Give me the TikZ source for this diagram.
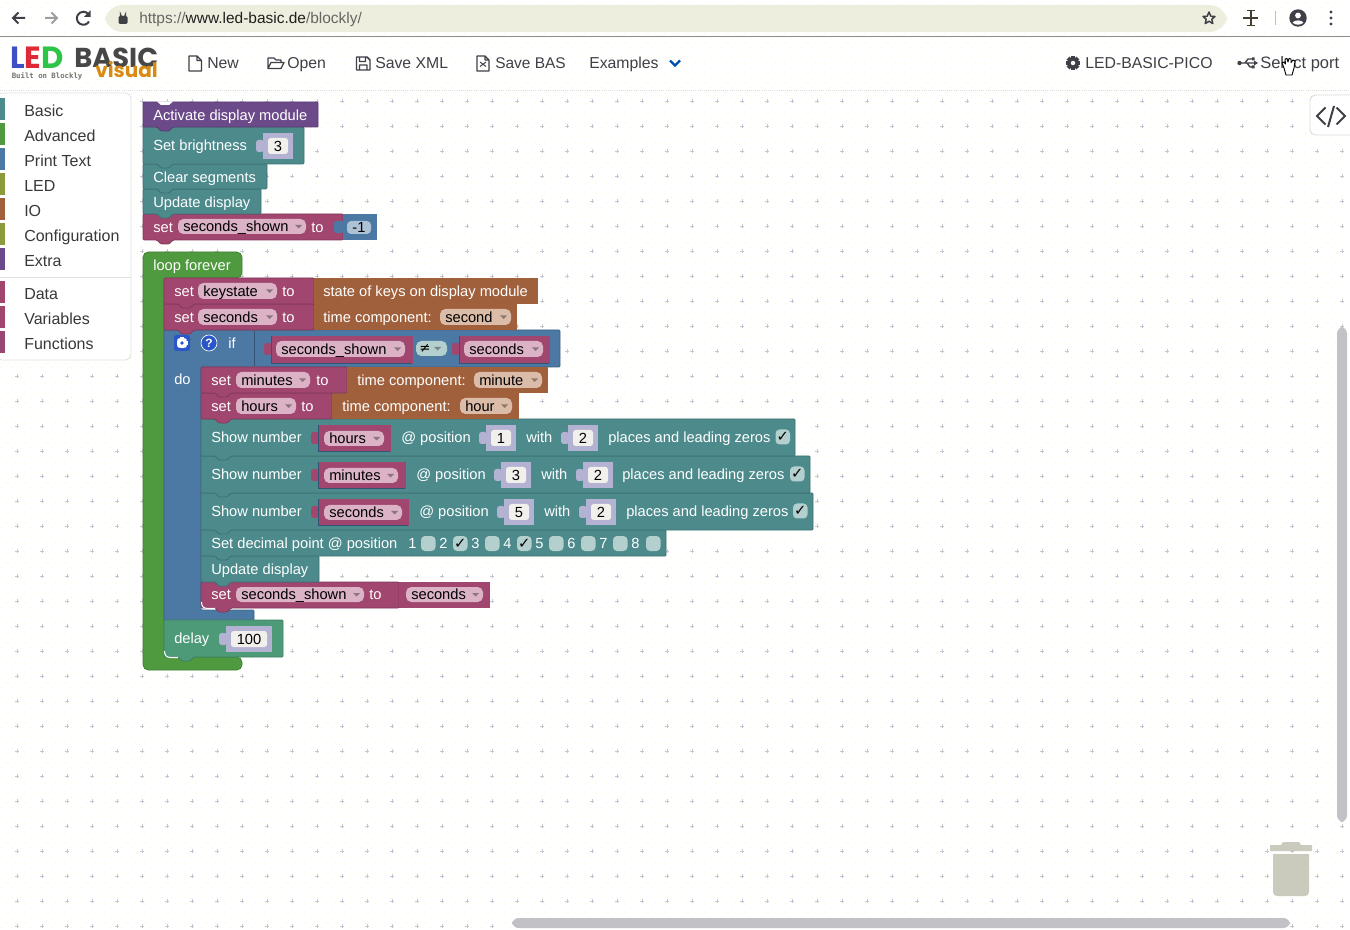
\documentclass[tikz,border=0pt]{standalone}
\usepackage{fontspec}
\usetikzlibrary{patterns}
\setmainfont{Liberation Sans}
\newfontfamily\symfont{DejaVu Sans}
\newfontfamily\logofont{Poppins}
\setmonofont{DejaVu Sans Mono}
\definecolor{barbg}{HTML}{EEEEDF}
\definecolor{navtext}{HTML}{3E4046}
\definecolor{purpleblk}{HTML}{6C4A8A}
\definecolor{tealblk}{HTML}{4C8A8C}
\definecolor{plumblk}{HTML}{A0466F}
\definecolor{brownblk}{HTML}{A0603C}
\definecolor{loopgreen}{HTML}{4F9A3F}
\definecolor{ifblue}{HTML}{4C78A4}
\definecolor{delaygreen}{HTML}{4C9A78}
\definecolor{shadowblk}{HTML}{B4B2D2}
\definecolor{pillpink}{HTML}{DBB2C6}
\definecolor{pillbrown}{HTML}{DBBCA8}
\definecolor{pillwhite}{HTML}{F2F0EC}
\definecolor{checkbg}{HTML}{B4D0CE}
\definecolor{grayblk}{HTML}{C2C2C6}
\definecolor{trashgray}{HTML}{CACBBC}
\definecolor{griddotc}{HTML}{C6C6D0}
\definecolor{helpblue}{HTML}{2A56C8}
\definecolor{ledolive}{HTML}{8C9A3C}
\definecolor{logoblue}{HTML}{4050C4}
\definecolor{logored}{HTML}{E02836}
\definecolor{logogreen}{HTML}{2EC448}
\definecolor{logoorange}{HTML}{D98A12}
\pgfdeclarepatternformonly{ditherdots}{\pgfqpoint{0pt}{0pt}}{\pgfqpoint{7.5pt}{7.5pt}}{\pgfqpoint{7.5pt}{7.5pt}}{
  \pgfpathcircle{\pgfqpoint{1.875pt}{1.875pt}}{.5pt}
  \pgfpathcircle{\pgfqpoint{5.625pt}{5.625pt}}{.5pt}
  \pgfusepath{fill}}
\tikzset{
  lbl/.style={anchor=west,inner sep=0pt,text height=9.5pt,text depth=1.5pt,font=\fontsize{11}{13}\selectfont,text=white},
  darklbl/.style={lbl,text=black},
  navlbl/.style={anchor=west,inner sep=0pt,text height=10.5pt,text depth=1.5pt,font=\fontsize{11.85}{14}\selectfont,text=navtext},
  toollbl/.style={navlbl,font=\fontsize{12}{14}\selectfont,text=black!78},
  blk/.style={line width=.6pt,rounded corners=.8pt},
  griddot/.style={draw=griddotc,line width=.7pt},
  nvicon/.style={draw=navtext,line width=.9pt,fill=none}
}
% block with its tab on the lower edge
\newcommand{\blk}[5]{\draw[blk,draw=#5!82!black,fill=#5] (#1,#2) -- (#3,#2) -- (#3,#4) -- ({#1+30},#4) -- ({#1+26},{#4+4}) -- ({#1+18},{#4+4}) -- ({#1+14},#4) -- (#1,#4) -- cycle;}
% round field with a dropdown arrow
\newcommand{\pill}[7][pillpink]{\fill[#1] (#3,#4) [rounded corners=4pt] rectangle (#5,#6);
  \node[darklbl] (#2) at ({#3+5},{(#4+#6)/2}) {#7};
  \fill[#1!65!black] ({#5-11},{(#4+#6)/2-1.5}) -- ({#5-4},{(#4+#6)/2-1.5}) -- ({#5-7.5},{(#4+#6)/2+2}) -- cycle;}
% number block with its lobe on the left
\newcommand{\numblk}[7][shadowblk]{\fill[#1] ({#3-7},{#4+7}) [rounded corners=2pt] rectangle ({#3+1},{#4+19});
  \fill[#1] (#3,#4) rectangle (#5,#6);
  \fill[pillwhite] ({#3+5},{#4+5}) [rounded corners=2pt] rectangle ({#5-5},{#6-5});
  \node[darklbl,anchor=center] (#2) at ({(#3+#5)/2},{(#4+#6)/2}) {#7};}
% variable block inside a socket
\newcommand{\varblk}[4]{\fill[plumblk] ({#1-7},{#2+7}) [rounded corners=2pt] rectangle ({#1+1},{#2+19});
  \draw[plumblk,fill=plumblk,line width=.6pt] (#1,#2) rectangle (#3,#4);
  \draw[ifblue!70!black,line width=.5pt] (#1,#2) -- (#1,#4) -- (#3,#4);}
\newcommand{\checkbox}[4]{\fill[checkbg] (#1,#2) [rounded corners=3pt] rectangle ({#1+14.5},{#2+15});
  \node[anchor=center,inner sep=0pt,font=\symfont\bfseries\fontsize{11}{12}\selectfont] (#3) at ({#1+7.2},{#2+7.5}) {#4};}
\newcommand{\gearicon}[5]{\foreach \a in {0,45,...,315} {\draw[#4,line width=#3*.42pt] (#1,#2) -- ++(\a:#3);}
  \fill[#4] (#1,#2) circle ({#3*.75});
  \fill[#5] (#1,#2) circle ({#3*.32});}
% thin white rim under a round lower corner
\newcommand{\rimcorner}[2]{\draw[white,line width=.8pt] ({#1+.5},{#2-6}) .. controls ({#1+.5},{#2-2}) and ({#1+2},{#2+.5}) .. ({#1+7},{#2+.5}) -- ({#1+14},{#2+.5});}
\begin{document}
\begin{tikzpicture}[x=.75pt,y=-.75pt]
  \useasboundingbox (0,0) rectangle (1350,930);
  \fill[white] (0,0) rectangle (1350,930);
  \fill[pattern=ditherdots,pattern color=yellow!50] (0,0) rectangle (1350,930);
  % canvas grid
  \foreach \i in {0,...,53} {
    \foreach \j in {4,...,37} {
      \draw[griddot] ({17+25*\i-1.8},{1+25*\j}) -- ({17+25*\i+1.8},{1+25*\j}) ({17+25*\i},{1+25*\j-1.8}) -- ({17+25*\i},{1+25*\j+1.8});
    }
  }
  % browser bar
  \draw[black!45,line width=.7pt] (0,36.5) -- (1350,36.5);
  \draw[black!14,line width=.6pt,densely dotted] (0,90) -- (1350,90);
  \fill[barbg] (105,5) [rounded corners=13pt] rectangle (1227,32);
  \draw[navtext,line width=1.5pt] (25,18) -- (13,18) (18.5,12.5) -- (13,18) -- (18.5,23.5);
  \draw[black!38,line width=1.5pt] (45,18) -- (57,18) (51.5,12.5) -- (57,18) -- (51.5,23.5);
  \draw[navtext,line width=1.5pt] (89,21.5) arc (30:325:6.5);
  \fill[navtext] (90.5,10.5) -- (90.5,17) -- (84,17) -- cycle;
  \fill[navtext] (118.5,16) [rounded corners=1pt] rectangle (127.5,24);
  \draw[navtext,line width=1pt] (120.5,16) -- (120.5,14.5) arc (180:0:2.5) -- (125.5,16);
  \node[lbl,font=\fontsize{11.6}{13}\selectfont,text=black!60] (url) at (139,18) {https://\textcolor{black!88}{www.led-basic.de}/blockly/};
  \draw[navtext,line width=1.1pt,line join=round] (1209,12) -- (1210.8,16.2) -- (1215,16.5) -- (1211.8,19.3) -- (1212.8,23.6) -- (1209,21.3) -- (1205.2,23.6) -- (1206.2,19.3) -- (1203,16.5) -- (1207.2,16.2) -- cycle;
  \draw[black!70!olive,line width=1pt] (1243,18) -- (1258,18) (1251,10.5) -- (1251,25.5) (1247,10.5) -- (1255,10.5) (1247,25.5) -- (1255,25.5);
  \draw[black!25,line width=.8pt] (1275.5,11) -- (1275.5,25);
  \fill[navtext] (1298,18) circle (8.7);
  \fill[white] (1298,15.5) circle (2.9);
  \fill[white] (1292.6,22.6) .. controls (1294,19.7) and (1302,19.7) .. (1303.4,22.6) .. controls (1301,25.4) and (1295,25.4) .. (1292.6,22.6);
  \foreach \dotpos in {12,18,24} {\fill[navtext] (1331,\dotpos) circle (1.7);}
  % logo
  \node[anchor=west,inner sep=0pt,font=\logofont\bfseries\fontsize{23}{24}\selectfont] (logoled) at (10,58) {\textcolor{logoblue}{L}\textcolor{logored}{E}\textcolor{logogreen}{D}};
  \node[anchor=west,inner sep=0pt,font=\logofont\bfseries\fontsize{20.5}{24}\selectfont,text=black!72] (logobasic) at (74,57.5) {BASIC};
  \node[anchor=west,inner sep=0pt,font=\logofont\bfseries\fontsize{15}{16}\selectfont,text=logoorange] (logovisual) at (95,70) {visual};
  \node[anchor=west,inner sep=0pt,font=\ttfamily\bfseries\fontsize{5.5}{7}\selectfont,text=black!55] (logobuilt) at (11.5,76.5) {Built on Blockly};
  % menu
  \draw[nvicon,line join=round] (189,56) -- (197,56) -- (201.5,60.5) -- (201.5,71) -- (189,71) -- cycle (197,56) -- (197,60.5) -- (201.5,60.5);
  \node[navlbl] (new) at (207,63) {New};
  \draw[nvicon,line join=round] (268,68.5) -- (268,58) -- (274,58) -- (276,60) -- (281,60) -- (281,62.5) (268,68.5) -- (271,62.5) -- (284,62.5) -- (281,68.5) -- cycle;
  \node[navlbl] (open) at (287,63) {Open};
  \draw[nvicon,line width=1.1pt,line join=round] (356.5,57) -- (367,57) -- (370,60) -- (370,70) -- (356.5,70) -- cycle (359.5,57) rectangle (365.5,61.5) (359.5,70) rectangle (367,65);
  \node[navlbl] (savexml) at (375,63) {Save XML};
  \draw[nvicon,line join=round] (477,56) -- (485,56) -- (489,60) -- (489,71) -- (477,71) -- cycle (485,56) -- (485,60) -- (489,60);
  \draw[navtext,line width=.7pt] (480,66.5) -- (486,62) (480,62) -- (486,66.5);
  \node[navlbl,font=\fontsize{11.6}{14}\selectfont] (savebas) at (495,63) {Save BAS};
  \node[navlbl] (examples) at (589,63) {Examples};
  \draw[blue!55!cyan!70!black,line width=1.8pt] (670,60.5) -- (675,65.5) -- (680,60.5);
  \gearicon{1073}{63}{7}{navtext}{white}
  \node[navlbl] (board) at (1085,63) {LED-BASIC-PICO};
  \fill[navtext] (1239.5,63) circle (2.2);
  \draw[navtext,line width=1pt] (1240,63) -- (1256,63) (1245,63) -- (1248,59) -- (1252,59) (1247,63) -- (1250,67) -- (1252,67);
  \fill[navtext] (1252,57.5) rectangle (1254.5,60.5) (1251.5,65.5) rectangle (1254.5,68.5);
  \fill[navtext] (1254,60.5) -- (1258,63) -- (1254,65.5) -- cycle;
  \node[navlbl,font=\fontsize{12.4}{14}\selectfont] (port) at (1260,63) {Select port};
  % hand cursor
  \draw[black,fill=white,line width=.7pt,line join=round] (1284,68) -- (1282,63) -- (1284,62) -- (1285.5,64) -- (1285,59) -- (1287,58.5) -- (1288,62) -- (1289,58.5) -- (1291,59) -- (1291,62.5) -- (1293,60) -- (1295,61) -- (1294,68) -- (1292,75) -- (1286,75) -- cycle;
  % toolbox
  \draw[black!12,fill=white,line width=.6pt] (-3,93) [rounded corners=4pt] rectangle (131,360);
  \fill[tealblk] (0,98) rectangle (5,120);
  \fill[loopgreen] (0,123) rectangle (5,145);
  \fill[ifblue] (0,148) rectangle (5,170);
  \fill[ledolive] (0,173) rectangle (5,195);
  \fill[brownblk] (0,198) rectangle (5,220);
  \fill[ledolive] (0,223) rectangle (5,245);
  \fill[purpleblk] (0,248) rectangle (5,270);
  \fill[plumblk] (0,281) rectangle (5,303);
  \fill[plumblk] (0,306) rectangle (5,328);
  \fill[plumblk!85!purpleblk] (0,331) rectangle (5,353);
  \draw[black!12,line width=.6pt] (0,277) -- (131,277);
  \node[toollbl] (basic) at (24,110.5) {Basic};
  \node[toollbl] (advanced) at (24,135.5) {Advanced};
  \node[toollbl] (printtext) at (24,160.5) {Print Text};
  \node[toollbl] (led) at (24,185.5) {LED};
  \node[toollbl] (io) at (24,210.5) {IO};
  \node[toollbl] (config) at (24,235.5) {Configuration};
  \node[toollbl] (extra) at (24,260.5) {Extra};
  \node[toollbl] (data) at (24,293.5) {Data};
  \node[toollbl] (variables) at (24,318.5) {Variables};
  \node[toollbl] (functions) at (24,343.5) {Functions};
  % start stack
  \blk{143}{214}{343}{240}{plumblk}
  \fill[ifblue] (343,214) rectangle (377,240);
  \fill[ifblue] (334,221) [rounded corners=2pt] rectangle (344,233);
  \blk{143}{189}{261}{214}{tealblk}
  \blk{143}{164}{267}{189}{tealblk}
  \blk{143}{127}{304}{164}{tealblk}
  \blk{143}{102}{318}{127}{purpleblk}
  \fill[white] (157,101.5) -- (173,101.5) -- (169,105) -- (161,105) -- cycle;
  \node[lbl] (activate) at (153,115) {Activate display module};
  \node[lbl] (brightness) at (153,145) {Set brightness};
  \numblk{brightnessval}{263}{133}{293}{159}{3}
  \node[lbl] (clear) at (153,177) {Clear segments};
  \node[lbl] (update) at (153,202) {Update display};
  \node[lbl] (set) at (153,227) {set};
  \pill{shown}{178}{219}{306}{234}{seconds\_shown}
  \node[lbl] (to) at (311,227) {to};
  \fill[ifblue!45!white] (347,221) [rounded corners=3pt] rectangle (371,234);
  \node[darklbl,anchor=center] (minusone) at (359,227.5) {-1};
  % loop forever
  \draw[blk,rounded corners=4pt,draw=loopgreen!82!black,fill=loopgreen] (143,252) -- (242,252) -- (242,278) -- (164,278) -- (164,657) -- (242,657) -- (242,670) -- (143,670) -- cycle;
  \node[lbl] (loop) at (153,265) {loop forever};
  % if frame
  \draw[blk,draw=ifblue!82!black,fill=ifblue] (164,330) -- (560,330) -- (560,367) -- (201,367) -- (201,610) -- (254,610) -- (254,621) -- (164,621) -- cycle;
  % inner stack
  \blk{201}{582}{399}{608}{plumblk}
  \fill[plumblk] (399,582) rectangle (490,608);
  \rimcorner{201}{608}
  \blk{201}{556}{319}{582}{tealblk}
  \blk{201}{530}{666}{556}{tealblk}
  \blk{201}{493}{813}{530}{tealblk}
  \blk{201}{456}{810}{493}{tealblk}
  \blk{201}{419}{795}{456}{tealblk}
  \blk{201}{393}{332}{419}{plumblk}
  \fill[brownblk] (332,393) rectangle (519,419);
  \blk{201}{367}{347}{393}{plumblk}
  \fill[brownblk] (347,367) rectangle (548,393);
  \blk{164}{620}{283}{657}{delaygreen}
  \rimcorner{164}{657}
  \blk{164}{304}{314}{330}{plumblk}
  \fill[brownblk] (314,304) rectangle (517,330);
  \blk{164}{278}{314}{304}{plumblk}
  \fill[brownblk] (314,278) rectangle (538,304);
  % keys and time
  \node[lbl] (setkeys) at (174,291) {set};
  \pill{keystate}{198}{283}{277}{299}{keystate}
  \node[lbl] (tokeys) at (282,291) {to};
  \node[lbl] (statekeys) at (323,291) {state of keys on display module};
  \node[lbl] (setsec) at (174,317) {set};
  \pill{seconds}{198}{309}{277}{325}{seconds}
  \node[lbl] (tosec) at (282,317) {to};
  \node[lbl] (timesec) at (323,317) {time component:};
  \pill[pillbrown]{second}{440}{309}{511}{325}{second}
  % if row
  \fill[helpblue] (174,335) [rounded corners=2pt] rectangle (190,351);
  \gearicon{182}{343}{5.5}{white}{helpblue}
  \draw[white,fill=helpblue,line width=.5pt] (209,343) circle (8);
  \node[anchor=center,inner sep=0pt,font=\bfseries\fontsize{9}{10}\selectfont,text=white] (help) at (209,343) {?};
  \node[lbl] (iflbl) at (228,343) {if};
  \draw[ifblue!70!black,line width=.5pt] (254,331) -- (254,366);
  \node[lbl] (dolbl) at (174,379) {do};
  \varblk{271}{336}{412}{363}
  \pill{shownif}{276}{341}{405}{357}{seconds\_shown}
  \fill[checkbg] (416,341) [rounded corners=4pt] rectangle (447,356);
  \node[anchor=center,inner sep=0pt,font=\symfont\fontsize{10}{11}\selectfont] (neq) at (425,348.5) {≠};
  \fill[checkbg!65!black] (434,347) -- (441,347) -- (437.5,350.5) -- cycle;
  \varblk{459}{336}{549}{363}
  \pill{secondsif}{464}{341}{543}{357}{seconds}
  % do rows
  \node[lbl] (setmin) at (211,380) {set};
  \pill{minutes}{236}{372}{310}{388}{minutes}
  \node[lbl] (tomin) at (316,380) {to};
  \node[lbl] (timemin) at (357,380) {time component:};
  \pill[pillbrown]{minute}{474}{372}{542}{388}{minute}
  \node[lbl] (sethour) at (211,406) {set};
  \pill{hours}{236}{398}{296}{414}{hours}
  \node[lbl] (tohour) at (301,406) {to};
  \node[lbl] (timehour) at (342,406) {time component:};
  \pill[pillbrown]{hour}{460}{398}{512}{414}{hour}
  % show number rows
  \node[lbl] (showa) at (211,437) {Show number};
  \varblk{318}{425}{390}{451}
  \pill{hoursval}{324}{431}{384}{446}{hours}
  \node[lbl] (posa) at (401,437) {@ position};
  \numblk{numa}{486}{425}{516}{451}{1}
  \node[lbl] (witha) at (526,437) {with};
  \numblk{placesa}{568}{425}{598}{451}{2}
  \node[lbl] (zerosa) at (608,437) {places and leading zeros};
  \checkbox{775.5}{429.5}{checka}{✓}
  \node[lbl] (showb) at (211,474) {Show number};
  \varblk{318}{462}{405}{488}
  \pill{minutesval}{324}{468}{398}{483}{minutes}
  \node[lbl] (posb) at (416,474) {@ position};
  \numblk{numb}{501}{462}{531}{488}{3}
  \node[lbl] (withb) at (541,474) {with};
  \numblk{placesb}{583}{462}{613}{488}{2}
  \node[lbl] (zerosb) at (622,474) {places and leading zeros};
  \checkbox{790}{466.5}{checkb}{✓}
  \node[lbl] (showc) at (211,511) {Show number};
  \varblk{318}{499}{408}{525}
  \pill{secondsval}{324}{505}{402}{520}{seconds}
  \node[lbl] (posc) at (419,511) {@ position};
  \numblk{numc}{504}{499}{534}{525}{5}
  \node[lbl] (withc) at (544,511) {with};
  \numblk{placesc}{586}{499}{616}{525}{2}
  \node[lbl] (zerosc) at (626,511) {places and leading zeros};
  \checkbox{793}{503.5}{checkc}{✓}
  % decimal points
  \node[lbl] (decimal) at (211,543) {Set decimal point @ position};
  \node[lbl] (da) at (408,543) {1};
  \checkbox{421}{536}{ba}{}
  \node[lbl] (db) at (439,543) {2};
  \checkbox{453}{536}{bb}{✓}
  \node[lbl] (dc) at (471,543) {3};
  \checkbox{485}{536}{bc}{}
  \node[lbl] (dd) at (503,543) {4};
  \checkbox{517}{536}{bd}{✓}
  \node[lbl] (de) at (535,543) {5};
  \checkbox{549}{536}{be}{}
  \node[lbl] (df) at (567,543) {6};
  \checkbox{581}{536}{bf}{}
  \node[lbl] (dg) at (599,543) {7};
  \checkbox{613}{536}{bg}{}
  \node[lbl] (dh) at (631,543) {8};
  \checkbox{646}{536}{bh}{}
  \node[lbl] (updateb) at (211,569) {Update display};
  \node[lbl] (setshown) at (211,594) {set};
  \pill{shownb}{236}{587}{364}{602}{seconds\_shown}
  \node[lbl] (toshown) at (369,594) {to};
  \pill{secondsb}{406}{587}{483}{602}{seconds}
  % delay
  \node[lbl] (delay) at (174,638) {delay};
  \numblk{delayval}{226}{626}{272}{652}{100}
  % right side
  \draw[black!14,fill=white,line width=.7pt] (1353,95) -- (1316,95) [rounded corners=4pt] -- (1310,95) -- (1310,135) -- (1353,135);
  \draw[navtext,line width=1.5pt] (1325.5,107.5) -- (1317,116) -- (1325.5,124.5) (1336.5,107.5) -- (1345,116) -- (1336.5,124.5) (1334,106) -- (1328,127);
  \fill[grayblk] (1337,327) [rounded corners=5pt] rectangle (1347,822);
  \fill[grayblk] (512,918) [rounded corners=5pt] rectangle (1290,928);
  \fill[trashgray] (1270,851) -- (1270,845) -- (1281,845) -- (1283,842) -- (1299,842) -- (1301,845) -- (1312,845) -- (1312,851) -- cycle;
  \fill[trashgray] (1273,854) -- (1309,854) [rounded corners=3pt] -- (1309,896) -- (1273,896) [sharp corners] -- cycle;
\end{tikzpicture}
\end{document}
